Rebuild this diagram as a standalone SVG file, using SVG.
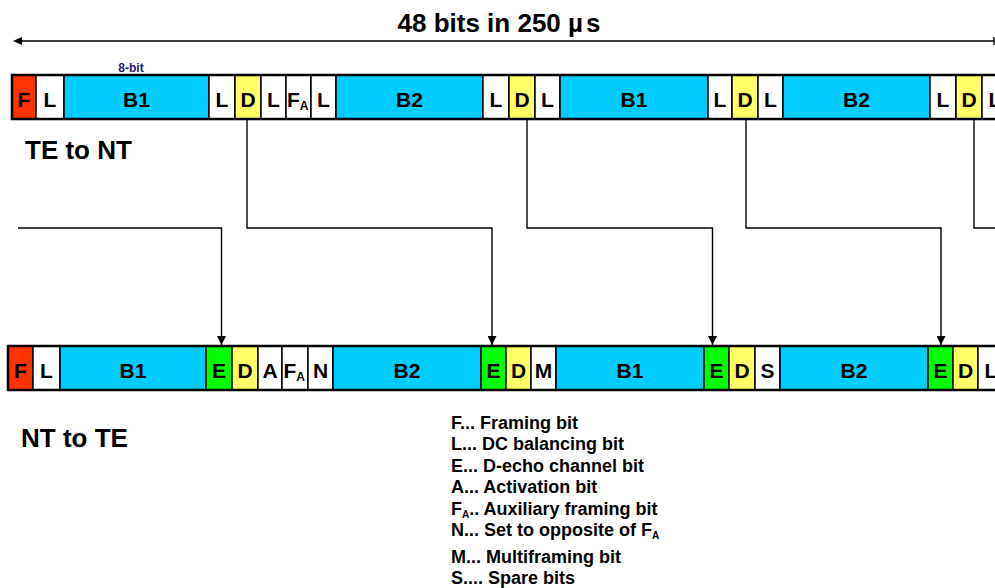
<svg xmlns="http://www.w3.org/2000/svg" width="995" height="588" viewBox="0 0 995 588">
<defs>
<style>
text{font-family:"Liberation Sans",Arial,sans-serif;font-weight:bold;fill:#000}
.c{stroke:#000;stroke-width:1.5}
.w{fill:#fff}.r{fill:#FF3300}.b{fill:#00CCFF}.y{fill:#FFFF66}.g{fill:#00FF00}
.lb{font-size:21px;text-anchor:middle}
.sub{font-size:12px}
.frame{fill:none;stroke:#000;stroke-width:2.5}
.con{fill:none;stroke:#000;stroke-width:1.4}
.leg{font-size:18px}
.big{font-size:26px}
</style>
<marker id="ah" viewBox="0 0 10 10" refX="10" refY="5" markerWidth="9" markerHeight="9" markerUnits="userSpaceOnUse" orient="auto">
<path d="M0,0 L10,5 L0,10 Z" fill="#000"/>
</marker>
</defs>
<rect width="995" height="588" fill="#fff"/>

<g id="title">
<text x="499" y="32" font-size="26" text-anchor="middle">48 bits in 250 <tspan>µ</tspan><tspan dx="3">s</tspan></text>
<line x1="16" y1="41" x2="994" y2="41" stroke="#000" stroke-width="1.4"/>
<path d="M13,41 L22,37 L22,45 Z" fill="#000"/>
<line x1="994" y1="37" x2="994" y2="45" stroke="#000" stroke-width="1.4"/>
</g>

<g id="label-8bit"><text x="131" y="72" font-size="12" style="fill:#1a1a7e" text-anchor="middle">8-bit</text></g>

<g id="top-row">
<g id="t-F"><rect class="c r" x="12" y="75" width="24" height="44"/><text class="lb" x="24" y="107">F</text></g>
<g id="t-L1"><rect class="c w" x="36" y="75" width="28" height="44"/><text class="lb" x="50" y="107">L</text></g>
<g id="t-B1a"><rect class="c b" x="64" y="75" width="145" height="44"/><text class="lb" x="136.5" y="107">B1</text></g>
<g id="t-L2"><rect class="c w" x="209" y="75" width="26" height="44"/><text class="lb" x="222" y="107">L</text></g>
<g id="t-D1"><rect class="c y" x="235" y="75" width="26" height="44"/><text class="lb" x="248" y="107">D</text></g>
<g id="t-L3"><rect class="c w" x="261" y="75" width="25" height="44"/><text class="lb" x="273.5" y="107">L</text></g>
<g id="t-FA"><rect class="c w" x="286" y="75" width="25" height="44"/><text x="287" y="107" font-size="21">F<tspan class="sub" dy="3">A</tspan></text></g>
<g id="t-L4"><rect class="c w" x="311" y="75" width="25" height="44"/><text class="lb" x="323.5" y="107">L</text></g>
<g id="t-B2a"><rect class="c b" x="336" y="75" width="147" height="44"/><text class="lb" x="409.5" y="107">B2</text></g>
<g id="t-L5"><rect class="c w" x="483" y="75" width="26" height="44"/><text class="lb" x="496" y="107">L</text></g>
<g id="t-D2"><rect class="c y" x="509" y="75" width="26" height="44"/><text class="lb" x="522" y="107">D</text></g>
<g id="t-L6"><rect class="c w" x="535" y="75" width="25" height="44"/><text class="lb" x="547.5" y="107">L</text></g>
<g id="t-B1b"><rect class="c b" x="560" y="75" width="148" height="44"/><text class="lb" x="634" y="107">B1</text></g>
<g id="t-L7"><rect class="c w" x="708" y="75" width="24" height="44"/><text class="lb" x="720" y="107">L</text></g>
<g id="t-D3"><rect class="c y" x="732" y="75" width="26" height="44"/><text class="lb" x="745" y="107">D</text></g>
<g id="t-L8"><rect class="c w" x="758" y="75" width="25" height="44"/><text class="lb" x="770.5" y="107">L</text></g>
<g id="t-B2b"><rect class="c b" x="783" y="75" width="147" height="44"/><text class="lb" x="856.5" y="107">B2</text></g>
<g id="t-L9"><rect class="c w" x="930" y="75" width="26" height="44"/><text class="lb" x="943" y="107">L</text></g>
<g id="t-D4"><rect class="c y" x="956" y="75" width="26" height="44"/><text class="lb" x="969" y="107">D</text></g>
<g id="t-L10"><rect class="c w" x="982" y="75" width="26" height="44"/><text class="lb" x="995" y="107">L</text></g>
<rect class="frame" x="12" y="75" width="1000" height="44"/>
</g>

<g id="bottom-row">
<g id="b-F"><rect class="c r" x="8" y="346" width="25" height="44"/><text class="lb" x="20.5" y="378">F</text></g>
<g id="b-L1"><rect class="c w" x="33" y="346" width="27" height="44"/><text class="lb" x="46.5" y="378">L</text></g>
<g id="b-B1a"><rect class="c b" x="60" y="346" width="146" height="44"/><text class="lb" x="133" y="378">B1</text></g>
<g id="b-E1"><rect class="c g" x="206" y="346" width="26" height="44"/><text class="lb" x="219" y="378">E</text></g>
<g id="b-D1"><rect class="c y" x="232" y="346" width="26" height="44"/><text class="lb" x="245" y="378">D</text></g>
<g id="b-A"><rect class="c w" x="258" y="346" width="24" height="44"/><text class="lb" x="270" y="378">A</text></g>
<g id="b-FA"><rect class="c w" x="282" y="346" width="26" height="44"/><text x="283.5" y="378" font-size="21">F<tspan class="sub" dy="3">A</tspan></text></g>
<g id="b-N"><rect class="c w" x="308" y="346" width="25" height="44"/><text class="lb" x="320.5" y="378">N</text></g>
<g id="b-B2a"><rect class="c b" x="333" y="346" width="148" height="44"/><text class="lb" x="407" y="378">B2</text></g>
<g id="b-E2"><rect class="c g" x="481" y="346" width="25" height="44"/><text class="lb" x="493.5" y="378">E</text></g>
<g id="b-D2"><rect class="c y" x="506" y="346" width="25" height="44"/><text class="lb" x="518.5" y="378">D</text></g>
<g id="b-M"><rect class="c w" x="531" y="346" width="25" height="44"/><text class="lb" x="543.5" y="378">M</text></g>
<g id="b-B1b"><rect class="c b" x="556" y="346" width="148" height="44"/><text class="lb" x="630" y="378">B1</text></g>
<g id="b-E3"><rect class="c g" x="704" y="346" width="25" height="44"/><text class="lb" x="716.5" y="378">E</text></g>
<g id="b-D3"><rect class="c y" x="729" y="346" width="26" height="44"/><text class="lb" x="742" y="378">D</text></g>
<g id="b-S"><rect class="c w" x="755" y="346" width="25" height="44"/><text class="lb" x="767.5" y="378">S</text></g>
<g id="b-B2b"><rect class="c b" x="780" y="346" width="148" height="44"/><text class="lb" x="854" y="378">B2</text></g>
<g id="b-E4"><rect class="c g" x="928" y="346" width="25" height="44"/><text class="lb" x="940.5" y="378">E</text></g>
<g id="b-D4"><rect class="c y" x="953" y="346" width="25" height="44"/><text class="lb" x="965.5" y="378">D</text></g>
<g id="b-L2"><rect class="c w" x="978" y="346" width="26" height="44"/><text class="lb" x="991" y="378">L</text></g>
<rect class="frame" x="8" y="346" width="1004" height="44"/>
</g>

<g id="connectors">
<path class="con" d="M18,228 H221.5 V345" marker-end="url(#ah)"/>
<path class="con" d="M247,120 V228 H492 V345" marker-end="url(#ah)"/>
<path class="con" d="M527,120 V228 H712.5 V345" marker-end="url(#ah)"/>
<path class="con" d="M746,120 V228 H941 V345" marker-end="url(#ah)"/>
<path class="con" d="M974,120 V228 H996"/>
</g>

<g id="dir-labels">
<text class="big" x="25" y="159">TE to NT</text>
<text class="big" x="21" y="447">NT to TE</text>
</g>

<g id="legend">
<text class="leg" x="451" y="429">F... Framing bit</text>
<text class="leg" x="451" y="450">L... DC balancing bit</text>
<text class="leg" x="451" y="472">E... D-echo channel bit</text>
<text class="leg" x="451" y="493">A... Activation bit</text>
<text class="leg" x="451" y="515">F<tspan font-size="10" dy="3">A</tspan><tspan dy="-3">.. Auxiliary framing bit</tspan></text>
<text class="leg" x="451" y="536">N... Set to opposite of F<tspan font-size="10" dy="3">A</tspan></text>
<text class="leg" x="451" y="563">M... Multiframing bit</text>
<text class="leg" x="451" y="584">S.... Spare bits</text>
</g>
</svg>
